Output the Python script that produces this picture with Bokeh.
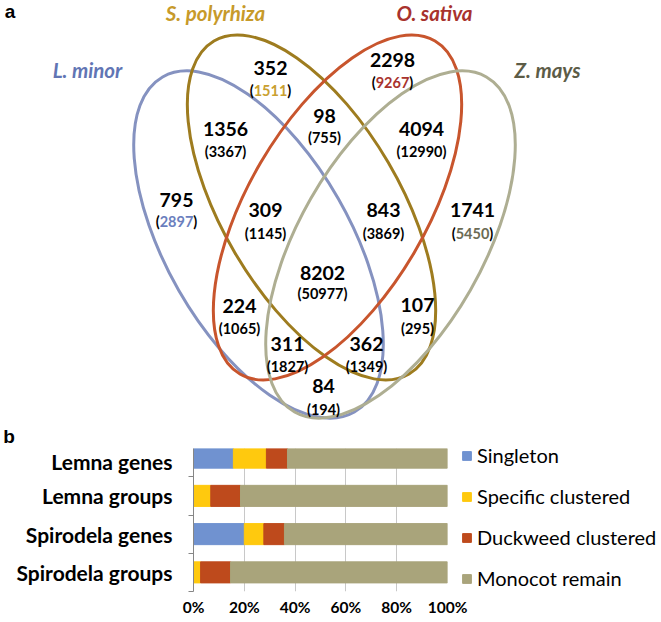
from bokeh.plotting import figure
from bokeh.models import Range1d, Legend, LegendItem, FixedTicker, ColumnDataSource
from bokeh.embed import file_html
from bokeh.resources import INLINE
from bokeh.core.properties import value

# ---------------- data: panel a (Venn) ----------------
set_names = ["L. minor", "S. polyrhiza", "O. sativa", "Z. mays"]
region_keys = ["L", "S", "O", "Z", "LS", "SO", "OZ", "LSO", "SOZ", "LSOZ",
               "LO", "SZ", "LOZ", "LSZ", "LZ"]
group_counts = [795, 352, 2298, 1741, 1356, 98, 4094, 309, 843, 8202,
                224, 107, 311, 362, 84]
gene_counts = [2897, 1511, 9267, 5450, 3367, 755, 12990, 1145, 3869, 50977,
               1065, 295, 1827, 1349, 194]

# ---------------- data: panel b (stacked bars) ----------------
bar_categories = ["Lemna genes", "Lemna groups", "Spirodela genes", "Spirodela groups"]
stack_names = ["Singleton", "Specific clustered", "Duckweed clustered", "Monocot remain"]
singleton = [15.7, 0.0, 20.0, 0.0]
specific = [13.0, 6.8, 7.7, 2.8]
duckweed = [8.3, 11.7, 8.1, 11.8]
monocot = [63.0, 81.5, 64.2, 85.4]
x_ticks = [0, 20, 40, 60, 80, 100]

# ---------------- layout / style ----------------
REF_W, REF_H = 661, 622
SPLIT = 448  # y where panel a ends
FONT_NAME = "Lato"
FONT = value(FONT_NAME)

def Y(py):
    return REF_H - py

ellipse_cx = [258, 311, 337, 390]
ellipse_cy = [244, 207, 207, 244]
ellipse_w = [184, 178, 178, 184]
ellipse_h = [386, 386, 386, 386]
ellipse_angle = [0.52, 0.53, -0.53, -0.52]
ellipse_colors = ["#8592C0", "#9E7C1F", "#C8552D", "#AEAE92"]

title_x = [87, 215, 434, 547]
title_y = [69, 12, 12, 69]
title_colors = ["#6175B4", "#C79A2A", "#A8322D", "#5C5C47"]
outer_num_colors = ["#6A7EBE", "#C9A030", "#A8322D", "#6B6B55"]

num_x = [176, 270, 392, 472, 225, 324, 421, 265, 383, 322, 239, 417, 287, 366, 323]
num_y = [199, 67, 59, 209, 128, 115, 128, 209, 209, 272, 305, 304, 343, 343, 385]
par_y = [221, 90, 82, 233, 151, 137, 151, 233, 233, 293, 328, 328, 366, 366, 409]

NUM_SIZE = 19.5
PAR_SIZE = 14.5

# ---------------- panel a ----------------
p1 = figure(width=REF_W, height=SPLIT, x_range=Range1d(0, REF_W), y_range=Range1d(REF_H - SPLIT, REF_H),
            output_backend="svg", toolbar_location=None, x_axis_type=None, y_axis_type=None,
            min_border=0)
p1.outline_line_color = None

p1.ellipse(x=ellipse_cx, y=[Y(v) for v in ellipse_cy], width=ellipse_w, height=ellipse_h,
           angle=ellipse_angle, fill_color=None, line_color=ellipse_colors, line_width=3)

p1.text(x=title_x, y=[Y(v) for v in title_y], text=set_names, text_color=title_colors,
        text_font=FONT, text_font_style="bold italic", text_font_size="20.5px",
        text_align="center", text_baseline="middle")

p1.text(x=num_x, y=[Y(v) for v in num_y], text=[str(v) for v in group_counts],
        text_color="black", text_font=FONT, text_font_style="bold",
        text_font_size=f"{NUM_SIZE}px", text_align="center", text_baseline="middle")

# inner regions: black parenthesised gene counts
inner = list(range(4, len(region_keys)))
p1.text(x=[num_x[i] for i in inner], y=[Y(par_y[i]) for i in inner],
        text=[f"({gene_counts[i]})" for i in inner], text_color="black",
        text_font=FONT, text_font_style="bold", text_font_size=f"{PAR_SIZE}px",
        text_align="center", text_baseline="middle")

# outer regions: coloured gene count inside black parentheses
outer = list(range(4))
half_w = [len(str(gene_counts[i])) * 0.58 * PAR_SIZE / 2 for i in outer]
p1.text(x=[num_x[i] for i in outer], y=[Y(par_y[i]) for i in outer],
        text=[str(gene_counts[i]) for i in outer], text_color=outer_num_colors,
        text_font=FONT, text_font_style="bold", text_font_size=f"{PAR_SIZE}px",
        text_align="center", text_baseline="middle")
p1.text(x=[num_x[i] - half_w[k] for k, i in enumerate(outer)], y=[Y(par_y[i]) for i in outer],
        text=["("] * 4, text_color="black", text_font=FONT, text_font_style="bold",
        text_font_size=f"{PAR_SIZE}px", text_align="right", text_baseline="middle")
p1.text(x=[num_x[i] + half_w[k] for k, i in enumerate(outer)], y=[Y(par_y[i]) for i in outer],
        text=[")"] * 4, text_color="black", text_font=FONT, text_font_style="bold",
        text_font_size=f"{PAR_SIZE}px", text_align="left", text_baseline="middle")

# panel letters
p1.text(x=[9.5, 8.5], y=[Y(11), Y(436)], text=["a", "b"], text_color="black",
        text_font=value("Liberation Sans"), text_font_style="bold", text_font_size="19px",
        text_align="center", text_baseline="middle")

# ---------------- panel b ----------------
n = len(bar_categories)
ypos = [n - i - 0.5 for i in range(n)]
frame_left, frame_right = 193, 447
frame_bottom = 591
cat_px = 38.25
y_top = n - (SPLIT - 438) / cat_px

src = ColumnDataSource(dict(y=ypos, s0=singleton, s1=specific, s2=duckweed, s3=monocot))
p2 = figure(frame_width=frame_right - frame_left, frame_height=frame_bottom - SPLIT,
            x_range=Range1d(0, 100), y_range=Range1d(0, y_top),
            output_backend="svg", toolbar_location=None,
            min_border_left=frame_left, min_border_right=0,
            min_border_top=0, min_border_bottom=REF_H - frame_bottom)
p2.outline_line_color = None

bar_colors = ["#7092D0", "#FFC90E", "#BE4A1C", "#A9A47B"]
rs = p2.hbar_stack(["s0", "s1", "s2", "s3"], y="y", height=0.55, color=bar_colors, source=src)

# axes
yax = p2.yaxis[0]
yax.ticker = FixedTicker(ticks=ypos, minor_ticks=list(range(n + 1)))
yax.major_label_overrides = {y: c for y, c in zip(ypos, bar_categories)}
yax.major_tick_line_color = None
yax.major_tick_out = 0
yax.major_tick_in = 0
yax.minor_tick_out = 5
yax.minor_tick_in = 0
yax.minor_tick_line_color = "#868686"
yax.axis_line_color = "#868686"
yax.major_label_standoff = 16
yax.major_label_text_font = FONT_NAME
yax.major_label_text_font_style = "bold"
yax.major_label_text_font_size = "21px"
yax.major_label_text_color = "black"

xax = p2.xaxis[0]
xax.ticker = FixedTicker(ticks=x_ticks)
xax.major_label_overrides = {t: f"{t}%" for t in x_ticks}
xax.axis_line_color = None
xax.major_tick_line_color = None
xax.minor_tick_line_color = None
xax.major_tick_out = 0
xax.major_label_standoff = 6
xax.major_label_text_font = FONT_NAME
xax.major_label_text_font_style = "bold"
xax.major_label_text_font_size = "15.5px"
xax.major_label_text_color = "black"

p2.ygrid.grid_line_color = None
p2.xgrid.ticker = FixedTicker(ticks=x_ticks)
p2.xgrid.grid_line_color = "#C8C8C8"
p2.xgrid.grid_line_width = 1

legend = Legend(items=[LegendItem(label=name, renderers=[r]) for name, r in zip(stack_names, rs)],
                location=(461 - frame_right, 1))
legend.border_line_color = None
legend.background_fill_alpha = 0
legend.padding = 0
legend.margin = 7
legend.spacing = 17
legend.label_height = 20
legend.glyph_height = 11
legend.glyph_width = 11
legend.label_standoff = 5
legend.label_text_font = FONT_NAME
legend.label_text_font_size = "20px"
legend.label_text_color = "black"
p2.add_layout(legend, "right")

open("out.html", "w").write(file_html([p1, p2], INLINE))
